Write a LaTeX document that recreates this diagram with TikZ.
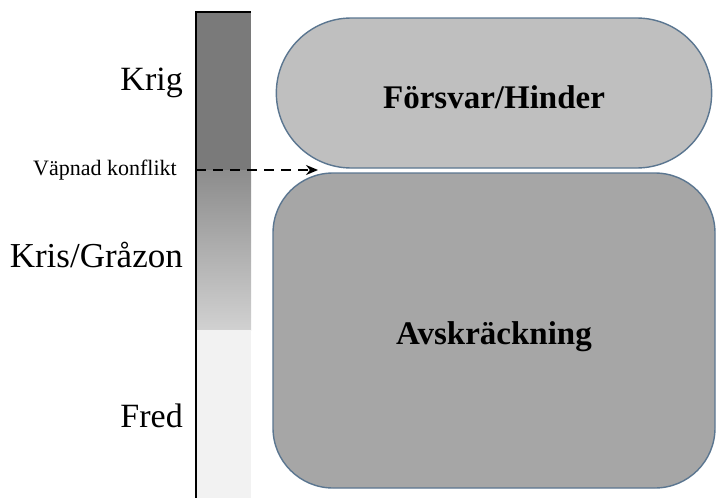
\documentclass[tikz,border=0pt]{standalone}
\usepackage{fontspec}
\setmainfont{Liberation Serif}
\usepackage{tikz}
\usetikzlibrary{arrows.meta, shapes.misc, positioning}

\definecolor{boxline}{HTML}{5B7690}
\definecolor{topfill}{HTML}{BFBFBF}
\definecolor{lowfill}{HTML}{A6A6A6}

\begin{document}
\begin{tikzpicture}[x=1pt, y=-1pt,
        level/.style={anchor=base east, inner sep=0pt, font=\fontsize{34}{40}\selectfont},
        stadium/.style={rounded rectangle, draw=boxline, line width=1.4pt, fill=topfill,
            minimum width=442pt, minimum height=150pt, text height=31pt, text depth=1pt,
            font=\fontsize{33}{40}\selectfont\bfseries},
        block/.style={rectangle, draw=boxline, line width=1.4pt, fill=lowfill, rounded corners=60pt,
            minimum width=442pt, minimum height=315pt, text height=29pt, text depth=2pt,
            font=\fontsize{33}{40}\selectfont\bfseries},
        edge/.style={-{Stealth[length=12pt, width=10pt]}, dash pattern=on 10pt off 7pt, line width=1.8pt}
    ]
    \useasboundingbox (0,0) rectangle (716,498);

    \fill[black!52] (196,12) rectangle (251,170);
    \shade[top color=black!45, bottom color=black!18] (196,170) rectangle (251,330);
    \fill[black!5] (196,330) rectangle (251,498);
    \draw[line width=2pt] (251,12) -- (196,12) -- (196,498);

    \node[level] (krig) at (183,90) {Krig};
    \node[level, font=\fontsize{22}{26}\selectfont] (konflikt) at (177,175) {Väpnad konflikt};
    \node[level, font=\fontsize{35}{40}\selectfont] (kris) at (183,267) {Kris/Gråzon};
    \node[level] (fred) at (183,427) {Fred};

    \node[stadium] (forsvar) at (494,93) {Försvar/Hinder};
    \node[block] (avskr) at (494,330.5) {Avskräckning};

    \coordinate (start) at (196,170);
    \coordinate (tip) at (318,170);
    \draw[edge] (start) -- (tip);
\end{tikzpicture}
\end{document}
